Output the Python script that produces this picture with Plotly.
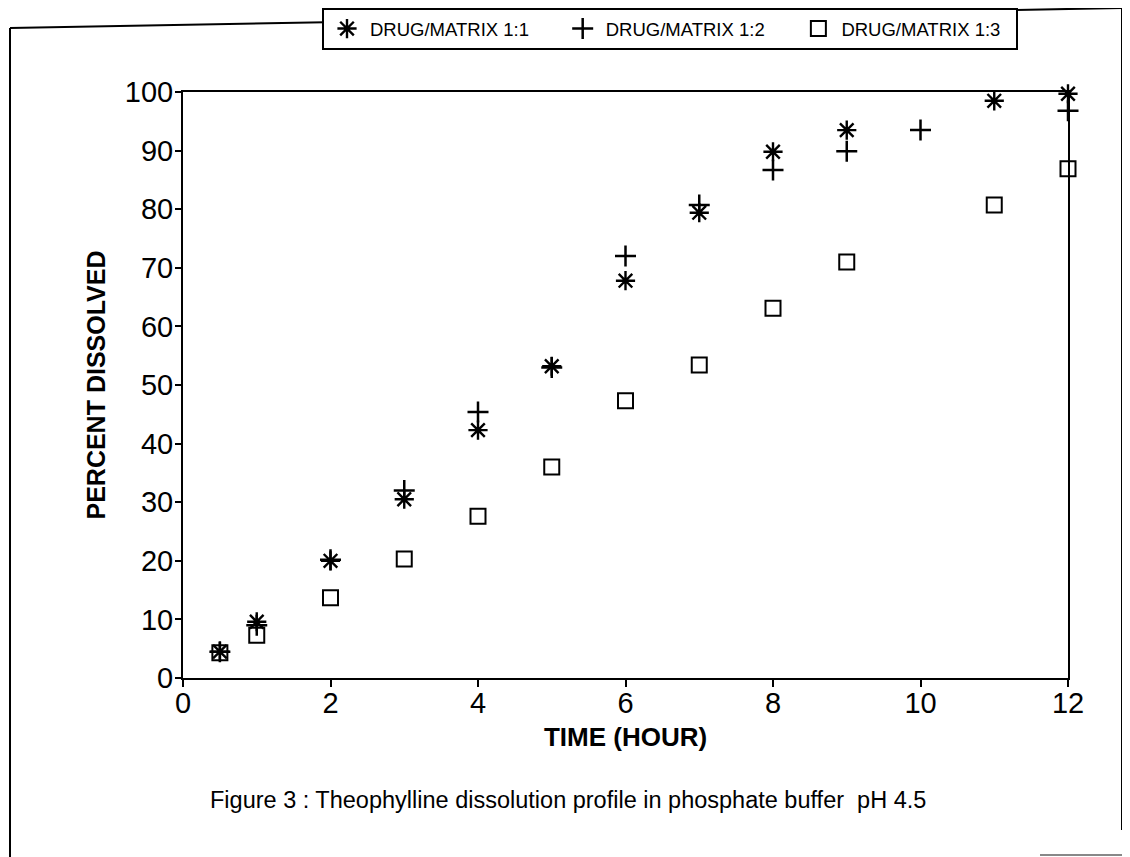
import plotly.graph_objects as go

# Data
time_11 = [0.5, 1, 2, 3, 4, 5, 6, 7, 8, 9, 11, 12]
pct_11 = [4.5, 9.6, 20.0, 30.5, 42.3, 53.2, 67.8, 79.4, 89.8, 93.5, 98.5, 99.7]

time_12 = [0.5, 1, 2, 3, 4, 5, 6, 7, 8, 9, 10, 12]
pct_12 = [4.5, 9.0, 20.2, 32.0, 45.4, 53.0, 72.0, 80.7, 86.7, 89.9, 93.5, 96.8]

time_13 = [0.5, 1, 2, 3, 4, 5, 6, 7, 8, 9, 11, 12]
pct_13 = [4.3, 7.3, 13.7, 20.3, 27.6, 36.0, 47.3, 53.4, 63.1, 71.0, 80.7, 86.9]

series_names = ["DRUG/MATRIX 1:1", "DRUG/MATRIX 1:2", "DRUG/MATRIX 1:3"]
x_ticks = [0, 2, 4, 6, 8, 10, 12]
y_ticks = [0, 10, 20, 30, 40, 50, 60, 70, 80, 90, 100]

FONT = "Liberation Sans"
W, H = 1130, 857
OFF = 8  # page body margin
# plot area in screenshot coordinates: x 183..1068, y 92..678
L = 183 - OFF
T = 92 - OFF
R = W - (1068 - OFF)
B = H - (678 - OFF)
PW, PH = W - L - R, H - T - B


def px(x):
    return (x - OFF - L) / PW


def py(y):
    return (H - B - (y - OFF)) / PH


fig = go.Figure()
fig.add_trace(go.Scatter(
    x=time_11, y=pct_11, mode="markers", name=series_names[0] + "     ",
    cliponaxis=False,
    marker=dict(symbol="asterisk-open", size=16, color="black",
                line=dict(color="black", width=2.4))))
fig.add_trace(go.Scatter(
    x=time_12, y=pct_12, mode="markers", name=series_names[1] + "     ",
    cliponaxis=False,
    marker=dict(symbol="cross-thin-open", size=15, color="black",
                line=dict(color="black", width=2.5))))
fig.add_trace(go.Scatter(
    x=time_13, y=pct_13, mode="markers", name=series_names[2] + "  ",
    cliponaxis=False,
    marker=dict(symbol="square-open", size=15, color="black",
                line=dict(color="black", width=2))))

# outer frame lines (scanned page border)
frame = [
    ((10, 28), (1122, 8)),
    ((10, 28), (10, 857)),
    ((1122, 8), (1122, 830)),
]
for (x0, y0), (x1, y1) in frame:
    fig.add_shape(type="line", xref="paper", yref="paper",
                  x0=px(x0), y0=py(y0), x1=px(x1), y1=py(y1),
                  line=dict(color="black", width=2), layer="below")
fig.add_shape(type="line", xref="paper", yref="paper",
              x0=px(1040), y0=py(855), x1=px(1130), y1=py(855),
              line=dict(color="#888888", width=2), layer="below")

fig.add_annotation(
    text="Figure 3 : Theophylline dissolution profile in phosphate buffer  pH 4.5",
    xref="paper", yref="paper", x=px(568), y=py(800),
    xanchor="center", yanchor="middle", showarrow=False,
    font=dict(family=FONT, size=23.5, color="black"))

fig.update_layout(
    width=W, height=H,
    margin=dict(l=L, r=R, t=T, b=B, autoexpand=False),
    paper_bgcolor="white", plot_bgcolor="white",
    font=dict(family=FONT, color="black"),
    showlegend=True,
    legend=dict(
        orientation="h", x=px(322), y=py(8), xanchor="left", yanchor="top",
        bgcolor="white", bordercolor="black", borderwidth=2,
        font=dict(family=FONT, size=18.5, color="black"),
        itemwidth=36, tracegroupgap=0,
    ),
    xaxis=dict(
        range=[0, 12], tickvals=x_ticks, ticktext=[str(v) for v in x_ticks],
        showgrid=False, zeroline=False, showline=True, linecolor="black",
        linewidth=2, mirror=True, ticks="outside", ticklen=7, tickwidth=2,
        tickcolor="black", tickfont=dict(family=FONT, size=29),
        ticklabelstandoff=-9,
        title=dict(text="<b>TIME (HOUR)</b>", font=dict(family=FONT, size=26),
                   standoff=10),
    ),
    yaxis=dict(
        range=[0, 100], tickvals=y_ticks, ticktext=[str(v) for v in y_ticks],
        showgrid=False, zeroline=False, showline=True, linecolor="black",
        linewidth=2, mirror=True, ticks="outside", ticklen=6, tickwidth=2,
        tickcolor="black", tickfont=dict(family=FONT, size=29),
        ticklabelstandoff=-4,
        title=dict(text="<b>PERCENT DISSOLVED</b>", font=dict(family=FONT, size=25),
                   standoff=12),
    ),
)

fig.write_html("out.html")
